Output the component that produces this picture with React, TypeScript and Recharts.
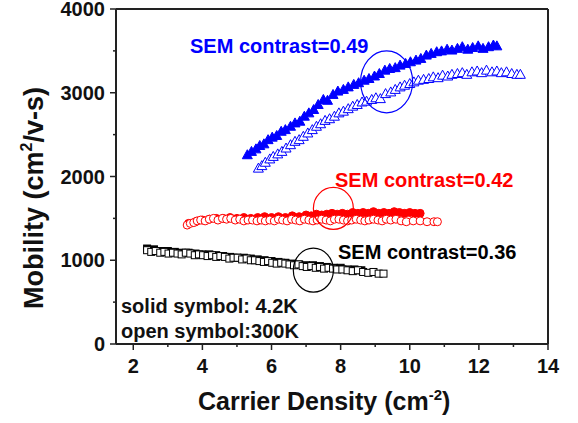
import React from "react";
import { ScatterChart, Scatter, XAxis, YAxis, ReferenceDot } from "recharts";

const xTicks = [2, 3, 4, 5, 6, 7, 8, 9, 10, 11, 12, 13, 14];
const yTicks = [0, 500, 1000, 1500, 2000, 2500, 3000, 3500, 4000];

// contrast 0.49, 4.2K (solid) and 300K (open)
const blueSolid: [number, number][] = [
  [5.3, 2260], [5.42, 2300], [5.55, 2330], [5.66, 2370], [5.78, 2390], [5.9, 2440], [6.02, 2470],
  [6.15, 2490], [6.28, 2540], [6.4, 2560], [6.55, 2600], [6.68, 2640], [6.82, 2660], [6.95, 2720],
  [7.08, 2760], [7.22, 2800], [7.35, 2860], [7.5, 2920], [7.62, 2910], [7.78, 2980], [7.92, 3020],
  [8.08, 3040], [8.22, 3070], [8.38, 3100], [8.52, 3120], [8.68, 3150], [8.82, 3170], [8.98, 3200],
  [9.12, 3230], [9.28, 3270], [9.42, 3290], [9.58, 3300], [9.72, 3330], [9.88, 3350], [10.02, 3370],
  [10.18, 3390], [10.32, 3410], [10.48, 3450], [10.62, 3470], [10.78, 3490], [10.92, 3500],
  [11.08, 3520], [11.22, 3510], [11.38, 3530], [11.52, 3550], [11.68, 3520], [11.82, 3540],
  [11.98, 3560], [12.12, 3530], [12.28, 3550], [12.42, 3570], [12.52, 3560],
];
const blueOpen: [number, number][] = [
  [5.62, 2100], [5.72, 2130], [5.82, 2170], [5.95, 2210], [6.05, 2240], [6.18, 2270], [6.3, 2300],
  [6.42, 2340], [6.55, 2380], [6.68, 2420], [6.8, 2440], [6.92, 2480], [7.05, 2520], [7.18, 2560],
  [7.3, 2600], [7.42, 2630], [7.55, 2670], [7.68, 2690], [7.82, 2720], [7.95, 2760], [8.08, 2780],
  [8.22, 2810], [8.35, 2840], [8.48, 2860], [8.62, 2890], [8.75, 2900], [8.9, 2920], [9.02, 2940],
  [9.15, 2930], [9.3, 2990], [9.45, 3010], [9.58, 3040], [9.72, 3070], [9.85, 3090], [10.0, 3110],
  [10.12, 3130], [10.25, 3150], [10.4, 3160], [10.55, 3170], [10.68, 3190], [10.82, 3180],
  [10.95, 3210], [11.1, 3200], [11.22, 3220], [11.38, 3230], [11.52, 3240], [11.65, 3220],
  [11.8, 3250], [11.95, 3260], [12.08, 3240], [12.22, 3270], [12.38, 3250], [12.52, 3260],
  [12.65, 3240], [12.8, 3250], [12.95, 3230], [13.1, 3220], [13.2, 3220],
];

// contrast 0.42
const redSolid: [number, number][] = [
  [3.6, 1440], [3.8, 1460], [4.0, 1480], [4.2, 1490], [4.4, 1500], [4.6, 1500], [4.8, 1510],
  [5.0, 1500], [5.2, 1510], [5.4, 1500], [5.6, 1510], [5.8, 1520], [6.0, 1510], [6.2, 1520],
  [6.4, 1510], [6.6, 1530], [6.8, 1520], [7.0, 1540], [7.15, 1530], [7.3, 1550], [7.45, 1540],
  [7.6, 1550], [7.75, 1560], [7.9, 1550], [8.05, 1560], [8.2, 1550], [8.35, 1570], [8.5, 1560],
  [8.65, 1570], [8.8, 1560], [8.95, 1580], [9.1, 1560], [9.25, 1570], [9.4, 1560], [9.55, 1580],
  [9.7, 1570], [9.85, 1560], [10.0, 1570], [10.15, 1560], [10.3, 1560],
];
const redOpen: [number, number][] = [
  [3.56, 1420], [3.65, 1440], [3.75, 1450], [3.85, 1470], [3.95, 1480], [4.08, 1470], [4.2, 1490],
  [4.32, 1500], [4.45, 1480], [4.58, 1500], [4.7, 1490], [4.82, 1500], [4.95, 1480], [5.08, 1490],
  [5.2, 1470], [5.32, 1480], [5.45, 1480], [5.58, 1470], [5.7, 1480], [5.82, 1470], [5.95, 1480],
  [6.08, 1470], [6.2, 1490], [6.32, 1480], [6.45, 1470], [6.58, 1490], [6.7, 1480], [6.82, 1470],
  [6.95, 1490], [7.08, 1480], [7.2, 1470], [7.32, 1480], [7.45, 1490], [7.58, 1480], [7.7, 1470],
  [7.82, 1490], [7.95, 1490], [8.08, 1480], [8.2, 1470], [8.32, 1480], [8.45, 1490], [8.58, 1480],
  [8.7, 1470], [8.82, 1480], [8.95, 1490], [9.08, 1480], [9.2, 1470], [9.32, 1490], [9.45, 1480],
  [9.6, 1490], [9.75, 1470], [9.9, 1460], [10.1, 1470], [10.3, 1470], [10.5, 1460], [10.7, 1460],
  [10.8, 1460],
];

// contrast 0.36
const blackSolid: [number, number][] = [
  [2.4, 1140], [2.6, 1130], [2.8, 1110], [3.0, 1110], [3.2, 1100], [3.4, 1090], [3.6, 1090],
  [3.8, 1080], [4.0, 1070], [4.2, 1070], [4.4, 1060], [4.6, 1050], [4.8, 1040], [5.0, 1030],
  [5.2, 1030], [5.4, 1020], [5.6, 1010], [5.8, 1000], [6.0, 990], [6.2, 980], [6.4, 970],
  [6.6, 960], [6.8, 950], [7.0, 940], [7.2, 940], [7.4, 930], [7.6, 920], [7.8, 910], [8.0, 910],
  [8.2, 890], [8.4, 890], [8.6, 880],
];
const blackOpen: [number, number][] = [
  [2.4, 1120], [2.52, 1100], [2.65, 1110], [2.78, 1090], [2.9, 1100], [3.02, 1080], [3.15, 1090],
  [3.28, 1080], [3.4, 1070], [3.52, 1090], [3.65, 1080], [3.78, 1060], [3.9, 1070], [4.02, 1060],
  [4.15, 1050], [4.28, 1060], [4.4, 1040], [4.52, 1050], [4.65, 1040], [4.78, 1020], [4.9, 1030],
  [5.02, 1030], [5.15, 1010], [5.28, 1020], [5.4, 1000], [5.52, 1000], [5.65, 990], [5.78, 980],
  [5.9, 990], [6.02, 970], [6.15, 960], [6.28, 970], [6.4, 960], [6.52, 950], [6.65, 940],
  [6.78, 950], [6.9, 930], [7.02, 920], [7.15, 930], [7.28, 910], [7.4, 920], [7.52, 900],
  [7.65, 910], [7.78, 900], [7.9, 890], [8.05, 890], [8.2, 880], [8.35, 870], [8.5, 880],
  [8.65, 860], [8.8, 850], [8.95, 860], [9.1, 840], [9.24, 840],
];

// circled regions (centres, data units)
const ringCenters: [number, number][] = [[9.33, 3131], [7.79, 1619], [7.21, 881]];

const BLUE = "#0000ff";
const RED = "#ff0000";
const INK = "#222";
const FONT = "'Liberation Sans', Arial, sans-serif";

const pts = (a: [number, number][]) => a.map(([x, y]) => ({ x, y }));

const tri = (color: string, solid: boolean) => (p: any) => {
  const { cx, cy } = p;
  return (
    <polygon
      points={`${cx},${cy - 5} ${cx + 5},${cy + 4} ${cx - 5},${cy + 4}`}
      fill={solid ? color : "#fff"}
      stroke={color}
      strokeWidth={1}
    />
  );
};
const dot = (color: string, solid: boolean) => (p: any) => (
  <circle cx={p.cx} cy={p.cy} r={4} fill={solid ? color : "#fff"} stroke={color} strokeWidth={1} />
);
const sq = (color: string, solid: boolean) => (p: any) => (
  <rect x={p.cx - 3.5} y={p.cy - 3.5} width={7} height={7} fill={solid ? color : "#fff"} stroke={color} strokeWidth={1} />
);

const ring = (color: string, rx: number, ry: number) => (p: any) => (
  <ellipse cx={p.cx} cy={p.cy} rx={rx} ry={ry} fill="none" stroke={color} strokeWidth={1.2} />
);

const BottomTick = (p: any) => {
  const major = p.payload.value % 2 === 0;
  return (
    <g>
      <line x1={p.x} x2={p.x} y1={p.y} y2={p.y + (major ? 6 : 3)} stroke={INK} strokeWidth={1.5} />
      {major && (
        <text x={p.x} y={p.y + 29} textAnchor="middle" fontSize={20} fontWeight="bold" fontFamily={FONT} fill="#111">
          {p.payload.value}
        </text>
      )}
    </g>
  );
};
const TopTick = (p: any) => {
  const major = p.payload.value % 2 === 0;
  return <line x1={p.x} x2={p.x} y1={p.y} y2={p.y + (major ? 6 : 4)} stroke={INK} strokeWidth={1.5} />;
};
const LeftTick = (p: any) => {
  const major = p.payload.value % 1000 === 0;
  return (
    <g>
      <line x1={p.x} x2={p.x - (major ? 6 : 3)} y1={p.y} y2={p.y} stroke={INK} strokeWidth={1.5} />
      {major && (
        <text x={p.x - 11} y={p.y + 7} textAnchor="end" fontSize={20} fontWeight="bold" fontFamily={FONT} fill="#111">
          {p.payload.value}
        </text>
      )}
    </g>
  );
};
const RightTick = (p: any) => {
  const major = p.payload.value % 1000 === 0;
  return <line x1={p.x} x2={p.x - (major ? 6 : 4)} y1={p.y} y2={p.y} stroke={INK} strokeWidth={1.5} />;
};

export default function App() {
  const axisLine = { stroke: INK, strokeWidth: 2 };
  return (
    <div style={{ position: "absolute", left: 0, top: 0, width: 578, height: 423, background: "#fff" }}>
      <ScatterChart width={578} height={423} margin={{ top: 8, right: 29, bottom: 0, left: 0 }}>
        <XAxis dataKey="x" type="number" domain={[1.5, 14]} ticks={xTicks} interval={0} height={79}
          axisLine={axisLine} tickLine={false} tickSize={0} tickMargin={0} tick={<BottomTick />} />
        <XAxis xAxisId="top" orientation="top" dataKey="x" type="number" domain={[1.5, 14]} ticks={xTicks}
          interval={0} height={1} axisLine={axisLine} tickLine={false} tickSize={0} tickMargin={0} tick={<TopTick />} />
        <YAxis dataKey="y" type="number" domain={[0, 4000]} ticks={yTicks} interval={0} width={116}
          axisLine={axisLine} tickLine={false} tickSize={0} tickMargin={0} tick={<LeftTick />} />
        <YAxis yAxisId="right" orientation="right" dataKey="y" type="number" domain={[0, 4000]} ticks={yTicks}
          interval={0} width={1} axisLine={axisLine} tickLine={false} tickSize={0} tickMargin={0} tick={<RightTick />} />

        <Scatter data={pts(blueOpen)} shape={tri(BLUE, false)} isAnimationActive={false} />
        <Scatter data={pts(blueSolid)} shape={tri(BLUE, true)} isAnimationActive={false} />
        <Scatter data={pts(redSolid)} shape={dot(RED, true)} isAnimationActive={false} />
        <Scatter data={pts(redOpen)} shape={dot(RED, false)} isAnimationActive={false} />
        <Scatter data={pts(blackSolid)} shape={sq("#000", true)} isAnimationActive={false} />
        <Scatter data={pts(blackOpen)} shape={sq("#000", false)} isAnimationActive={false} />

        <ReferenceDot x={ringCenters[0][0]} y={ringCenters[0][1]} r={26} shape={ring(BLUE, 26, 31)} />
        <ReferenceDot x={ringCenters[1][0]} y={ringCenters[1][1]} r={20} shape={ring(RED, 20, 21)} />
        <ReferenceDot x={ringCenters[2][0]} y={ringCenters[2][1]} r={20} shape={ring("#000", 20, 22)} />
      </ScatterChart>

      <svg width={578} height={423} style={{ position: "absolute", left: 0, top: 0, pointerEvents: "none" }}
        fontFamily={FONT} fontWeight="bold">
        <text x={190} y={53} fontSize={20} fill={BLUE}>SEM contrast=0.49</text>
        <text x={335} y={187} fontSize={20} fill={RED}>SEM contrast=0.42</text>
        <text x={338} y={259} fontSize={20} fill="#000">SEM contrast=0.36</text>
        <text x={121} y={313} fontSize={20} fill="#111">solid symbol: 4.2K</text>
        <text x={121} y={338} fontSize={20} fill="#111">open symbol:300K</text>

        <text x={198} y={410} fontSize={25} fill="#111">
          Carrier Density (cm<tspan dy={-10} fontSize={15}>-2</tspan><tspan dy={10}>)</tspan>
        </text>
        <text transform="rotate(-90)" x={-198} y={43} textAnchor="middle" fontSize={27} fill="#111">
          Mobility (cm<tspan dy={-11} fontSize={16}>2</tspan><tspan dy={11}>/v-s)</tspan>
        </text>
      </svg>
    </div>
  );
}
